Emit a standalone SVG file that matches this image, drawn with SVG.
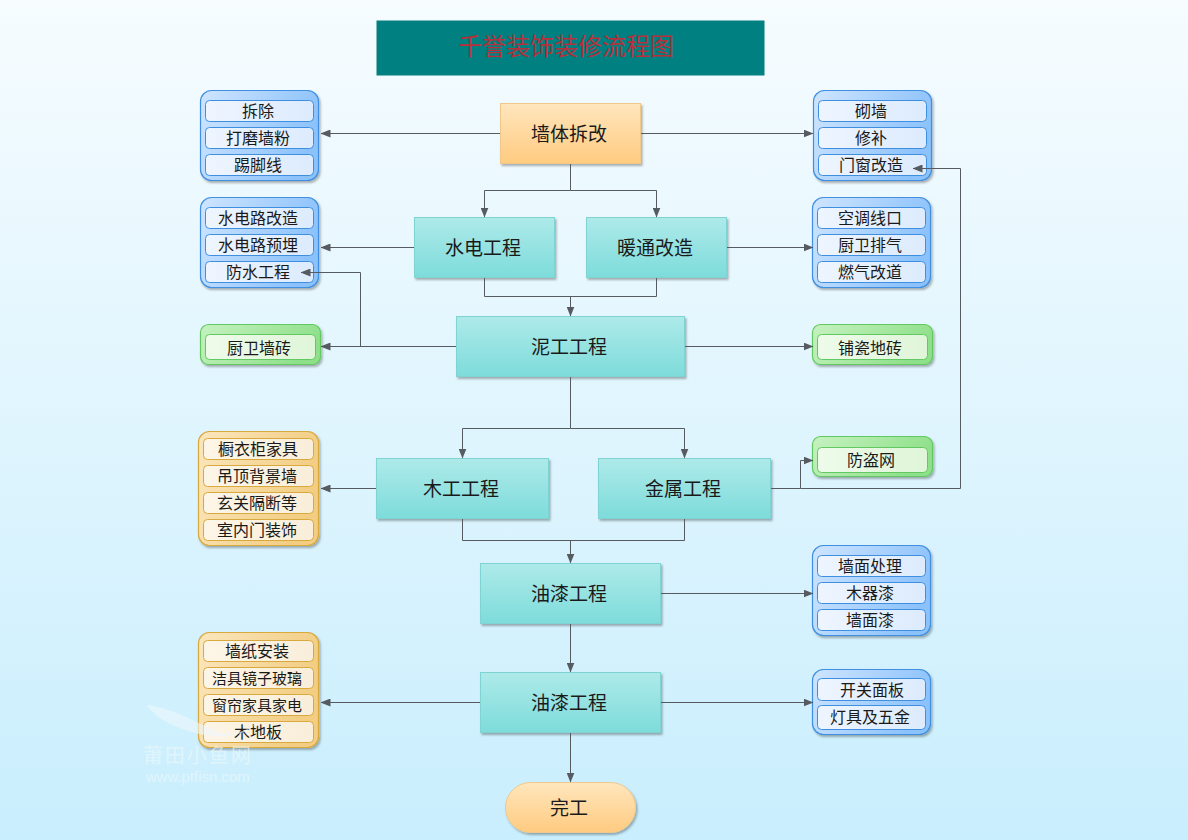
<svg xmlns="http://www.w3.org/2000/svg" width="1188" height="840" viewBox="0 0 1188 840">
<style>
text{font-family:"Noto Sans CJK SC","Noto Sans",sans-serif;text-anchor:middle;dominant-baseline:central;fill:#1a1a1a}
.n{font-size:19px}.s{font-size:16px}.x{font-size:15px}
.m{stroke-width:1;filter:url(#sh)}
.teal{fill:url(#gTeal);stroke:#7fd3d3}
.org{fill:url(#gOrg);stroke:#f0c98a}
.bo{fill:url(#gBlue);stroke:#3f8fe0;stroke-width:1.2;filter:url(#sh)}
.bi{fill:url(#gBlueI);stroke:#3f8fe0}
.go{fill:url(#gGreen);stroke:#62c862;stroke-width:1.2;filter:url(#sh)}
.gi{fill:url(#gGreenI);stroke:#62c862}
.yo{fill:url(#gYel);stroke:#d8a93e;stroke-width:1.2;filter:url(#sh)}
.yi{fill:url(#gYelI);stroke:#d8a93e}
#connectors path{fill:none;stroke:#555b60;stroke-width:1}
.arr{marker-end:url(#a)}
</style>
<defs>
<linearGradient id="bg" x1="0" y1="0" x2="0" y2="1"><stop offset="0" stop-color="#f6fcff"/><stop offset="1" stop-color="#c9eefd"/></linearGradient>
<linearGradient id="gTeal" x1="0" y1="0" x2="0" y2="1"><stop offset="0" stop-color="#aeeaea"/><stop offset="1" stop-color="#7ddcda"/></linearGradient>
<linearGradient id="gOrg" x1="0" y1="0" x2="0" y2="1"><stop offset="0" stop-color="#ffe6bd"/><stop offset="1" stop-color="#ffcb80"/></linearGradient>
<linearGradient id="gBlue" x1="0" y1="0" x2="1" y2="0.3"><stop offset="0" stop-color="#cfe5ff"/><stop offset="1" stop-color="#8cc2fb"/></linearGradient>
<linearGradient id="gBlueI" x1="0" y1="0" x2="1" y2="0"><stop offset="0" stop-color="#eef5ff"/><stop offset="1" stop-color="#dcebfd"/></linearGradient>
<linearGradient id="gGreen" x1="0" y1="0" x2="1" y2="0.3"><stop offset="0" stop-color="#c6f2c0"/><stop offset="1" stop-color="#8fe08a"/></linearGradient>
<linearGradient id="gGreenI" x1="0" y1="0" x2="1" y2="0"><stop offset="0" stop-color="#eefbea"/><stop offset="1" stop-color="#dff5d8"/></linearGradient>
<linearGradient id="gYel" x1="0" y1="0" x2="1" y2="0.3"><stop offset="0" stop-color="#fbe6bd"/><stop offset="1" stop-color="#f2cd82"/></linearGradient>
<linearGradient id="gYelI" x1="0" y1="0" x2="1" y2="0"><stop offset="0" stop-color="#fdf5e6"/><stop offset="1" stop-color="#f9eeda"/></linearGradient>
<filter id="sh" x="-10%" y="-10%" width="125%" height="125%"><feDropShadow dx="1.5" dy="2" stdDeviation="1.2" flood-color="#000" flood-opacity="0.3"/></filter>
<marker id="a" viewBox="0 0 10 8" refX="9.500" refY="4" markerUnits="userSpaceOnUse" markerWidth="10" markerHeight="8" orient="auto"><path d="M0 0L10 4L0 8Z" fill="#555b60"/></marker>
</defs>
<rect width="1188" height="840" fill="url(#bg)"/>
<g id="title"><rect x="376.500" y="20.500" width="388" height="55" fill="#008080"/><text x="566" y="44" style="font-size:24px;fill:#b5303a">千誉装饰装修流程图</text></g>
<g id="n1"><rect class="m org" x="500.500" y="103.500" width="140" height="60"/><text class="n" x="569" y="132">墙体拆改</text></g>
<g id="n2"><rect class="m teal" x="414.500" y="217.500" width="140" height="60"/><text class="n" x="483" y="246">水电工程</text></g>
<g id="n3"><rect class="m teal" x="586.500" y="217.500" width="140" height="60"/><text class="n" x="655" y="246">暖通改造</text></g>
<g id="n4"><rect class="m teal" x="456.500" y="316.500" width="228" height="60"/><text class="n" x="569" y="345">泥工工程</text></g>
<g id="n5"><rect class="m teal" x="376.500" y="458.500" width="172" height="60"/><text class="n" x="461" y="487">木工工程</text></g>
<g id="n6"><rect class="m teal" x="598.500" y="458.500" width="172" height="60"/><text class="n" x="683" y="487">金属工程</text></g>
<g id="n7"><rect class="m teal" x="480.500" y="563.500" width="180" height="60"/><text class="n" x="569" y="592">油漆工程</text></g>
<g id="n8"><rect class="m teal" x="480.500" y="672.500" width="180" height="60"/><text class="n" x="569" y="701">油漆工程</text></g>
<g id="n9"><rect class="m org" x="505.500" y="782.500" width="130" height="50" rx="25"/><text class="n" x="569" y="806">完工</text></g>
<g id="g1"><rect class="bo" x="200.500" y="90.500" width="118" height="90" rx="11"/>
<rect class="bi" x="205.500" y="100.500" width="108" height="21" rx="4"/><rect class="bi" x="205.500" y="127.500" width="108" height="21" rx="4"/><rect class="bi" x="205.500" y="154.500" width="108" height="21" rx="4"/>
<text class="s" x="258" y="110">拆除</text><text class="s" x="258" y="137">打磨墙粉</text><text class="s" x="258" y="164">踢脚线</text></g>
<g id="g2"><rect class="bo" x="813.500" y="90.500" width="118" height="90" rx="11"/>
<rect class="bi" x="818.500" y="100.500" width="108" height="21" rx="4"/><rect class="bi" x="818.500" y="127.500" width="108" height="21" rx="4"/><rect class="bi" x="818.500" y="154.500" width="108" height="21" rx="4"/>
<text class="s" x="871" y="110">砌墙</text><text class="s" x="871" y="137">修补</text><text class="s" x="871" y="164">门窗改造</text></g>
<g id="g3"><rect class="bo" x="200.500" y="197.500" width="118" height="90" rx="11"/>
<rect class="bi" x="205.500" y="207.500" width="108" height="21" rx="4"/><rect class="bi" x="205.500" y="234.500" width="108" height="21" rx="4"/><rect class="bi" x="205.500" y="261.500" width="108" height="21" rx="4"/>
<text class="s" x="258" y="217">水电路改造</text><text class="s" x="258" y="244">水电路预埋</text><text class="s" x="258" y="271">防水工程</text></g>
<g id="g4"><rect class="bo" x="812.500" y="197.500" width="118" height="90" rx="11"/>
<rect class="bi" x="817.500" y="207.500" width="108" height="21" rx="4"/><rect class="bi" x="817.500" y="234.500" width="108" height="21" rx="4"/><rect class="bi" x="817.500" y="261.500" width="108" height="21" rx="4"/>
<text class="s" x="870" y="217">空调线口</text><text class="s" x="870" y="244">厨卫排气</text><text class="s" x="870" y="271">燃气改道</text></g>
<g id="g5"><rect class="go" x="200.500" y="324.500" width="120" height="40" rx="8"/><rect class="gi" x="205.500" y="334.500" width="110" height="25" rx="4"/><text class="s" x="259" y="347">厨卫墙砖</text></g>
<g id="g6"><rect class="go" x="812.500" y="324.500" width="120" height="40" rx="8"/><rect class="gi" x="817.500" y="334.500" width="110" height="25" rx="4"/><text class="s" x="870" y="347">铺瓷地砖</text></g>
<g id="g7"><rect class="go" x="812.500" y="436.500" width="120" height="40" rx="8"/><rect class="gi" x="817.500" y="447.500" width="110" height="25" rx="4"/><text class="s" x="871" y="459">防盗网</text></g>
<g id="g8"><rect class="yo" x="198.500" y="431.500" width="120" height="114" rx="11"/>
<rect class="yi" x="203.500" y="438.500" width="110" height="21" rx="4"/><rect class="yi" x="203.500" y="465.500" width="110" height="21" rx="4"/><rect class="yi" x="203.500" y="492.500" width="110" height="21" rx="4"/><rect class="yi" x="203.500" y="519.500" width="110" height="21" rx="4"/>
<text class="s" x="258" y="448">橱衣柜家具</text><text class="s" x="257" y="475">吊顶背景墙</text><text class="s" x="257" y="502">玄关隔断等</text><text class="s" x="257" y="529">室内门装饰</text></g>
<g id="g9"><rect class="bo" x="812.500" y="545.500" width="118" height="90" rx="11"/>
<rect class="bi" x="817.500" y="555.500" width="108" height="21" rx="4"/><rect class="bi" x="817.500" y="582.500" width="108" height="21" rx="4"/><rect class="bi" x="817.500" y="609.500" width="108" height="21" rx="4"/>
<text class="s" x="870" y="565">墙面处理</text><text class="s" x="870" y="592">木器漆</text><text class="s" x="870" y="619">墙面漆</text></g>
<g id="g10"><rect class="yo" x="198.500" y="632.500" width="120" height="115" rx="11"/>
<rect class="yi" x="203.500" y="640.500" width="110" height="21" rx="4"/><rect class="yi" x="203.500" y="667.500" width="110" height="21" rx="4"/><rect class="yi" x="203.500" y="694.500" width="110" height="21" rx="4"/><rect class="yi" x="203.500" y="721.500" width="110" height="21" rx="4"/>
<text class="s" x="257" y="650">墙纸安装</text><text class="x" x="257" y="677">洁具镜子玻璃</text><text class="x" x="257" y="704">窗帘家具家电</text><text class="s" x="258" y="731">木地板</text></g>
<g id="g11"><rect class="bo" x="812.500" y="669.500" width="118" height="65" rx="11"/>
<rect class="bi" x="817.500" y="678.500" width="108" height="22" rx="4"/><rect class="bi" x="817.500" y="705.500" width="108" height="24" rx="4"/>
<text class="s" x="872" y="689">开关面板</text><text class="s" x="870" y="716">灯具及五金</text></g>
<g id="connectors">
<path class="arr" d="M500 133.500H321"/><path class="arr" d="M641 133.500H813"/>
<path d="M570.500 164V190.500"/><path class="arr" d="M570.500 190.500H484.500V217"/><path class="arr" d="M570.500 190.500H656.500V217"/>
<path class="arr" d="M414 247.500H321"/><path class="arr" d="M727 247.500H813"/>
<path d="M484.500 278V296.500H656.500V278"/><path class="arr" d="M570.500 296.500V316"/>
<path class="arr" d="M456 346.500H321"/><path class="arr" d="M360.500 346.500V272.500H301"/><path class="arr" d="M685 346.500H813"/>
<path d="M570.500 377V428.500"/><path class="arr" d="M570.500 428.500H462.500V458"/><path class="arr" d="M570.500 428.500H684.500V458"/>
<path class="arr" d="M376 488.500H321"/><path class="arr" d="M771 488.500H800.500V460.500H813"/><path class="arr" d="M800.500 488.500H960.500V168.500H913"/>
<path d="M462.500 519V540.500H684.500V519"/><path class="arr" d="M570.500 540.500V563"/>
<path class="arr" d="M661 593.500H813"/><path class="arr" d="M570.500 624V672"/>
<path class="arr" d="M480 702.500H321"/><path class="arr" d="M661 702.500H813"/><path class="arr" d="M570.500 733V782"/>
</g>
<g id="watermark" opacity="0.6">
<path d="M147 705C175 708 205 728 222 733C240 735 250 728 258 722C240 742 205 738 180 728C165 722 152 714 147 705Z" fill="#eef8fc"/>
<text x="198" y="754" style="font-size:20px;letter-spacing:2px;fill:#eef8fc">莆田小鱼网</text>
<text x="198" y="776" style="font-family:'Liberation Sans',sans-serif;font-size:15px;fill:#eef8fc">www.ptfisn.com</text>
</g>
</svg>
